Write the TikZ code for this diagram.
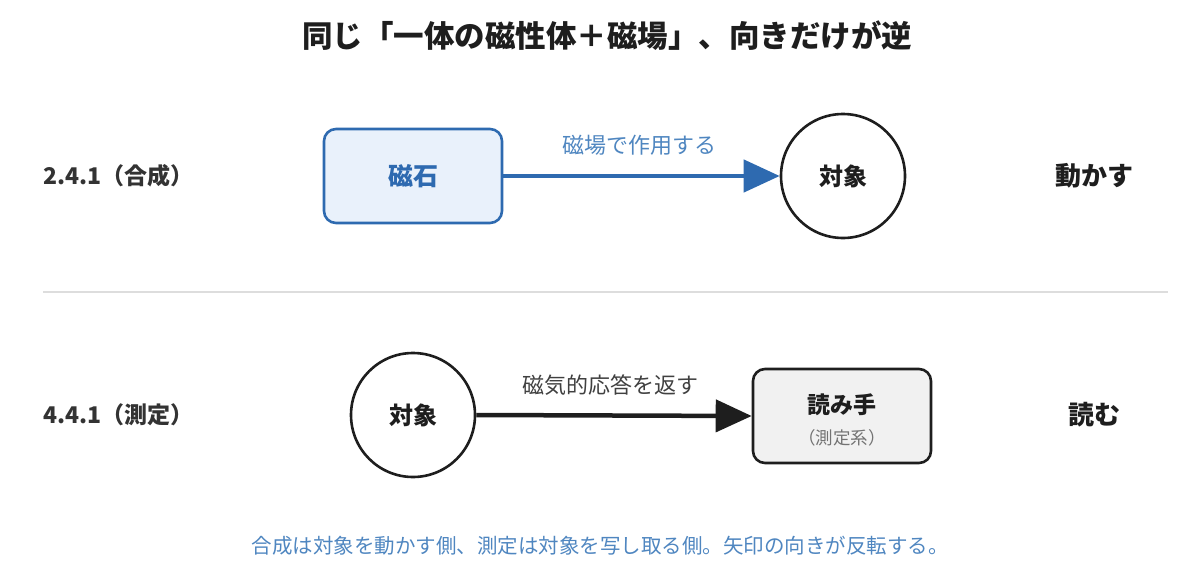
\documentclass[tikz,border=0pt]{standalone}
\usepackage{fontspec}
\setmainfont{Noto Sans CJK JP}
\usetikzlibrary{arrows.meta}
\definecolor{tblue}{HTML}{2E6AB0}
\definecolor{lblue}{HTML}{E9F1FB}
\definecolor{mblue}{HTML}{4F86C0}
\definecolor{dark}{HTML}{1E1E1E}
\definecolor{lgray}{HTML}{F1F1F1}
\definecolor{sep}{HTML}{DDDDDD}
\tikzset{
  rowlabel/.style={anchor=west, font=\fontsize{23}{27}\selectfont\bfseries, text=black!80},
  verb/.style={font=\fontsize{26}{30}\selectfont\bfseries, text=dark},
  objcircle/.style={circle, draw=dark, line width=2.6pt, minimum size=124pt, inner sep=0pt, font=\fontsize{24}{28}\selectfont\bfseries, text=dark},
  magbox/.style={rounded corners=12pt, draw=tblue, fill=lblue, line width=2.6pt, minimum width=178pt, minimum height=94pt, font=\fontsize{25}{29}\selectfont\bfseries, text=tblue},
  readbox/.style={rounded corners=12pt, draw=dark, fill=lgray, line width=2.6pt, minimum width=178pt, minimum height=94pt},
  edgelabel/.style={font=\fontsize{22}{26}\selectfont},
  bigarrow/.style={line width=4.5pt, -{Triangle[length=36pt,width=32pt]}}
}
\begin{document}
\begin{tikzpicture}[x=1pt,y=-1pt]
\useasboundingbox (0,0) rectangle (1200,573);
\node[font=\fontsize{30.5}{34}\selectfont\bfseries, text=dark] (title) at (607,36) {同じ「一体の磁性体＋磁場」、向きだけが逆};
% row 1
\node[rowlabel] (l1) at (40,176) {2.4.1（合成）};
\node[magbox] (magnet) at (413,176) {磁石};
\node[objcircle] (obj1) at (843,176) {対象};
\draw[bigarrow, draw=tblue, fill=tblue] (magnet.east) -- (obj1.west);
\node[edgelabel, text=mblue] (lab1) at (639,145) {磁場で作用する};
\node[verb] (v1) at (1094,176) {動かす};
% separator
\coordinate (s1) at (43,292);
\coordinate (s2) at (1168,292);
\draw[sep, line width=1.5pt] (s1) -- (s2);
% row 2
\node[rowlabel] (l2) at (40,415) {4.4.1（測定）};
\node[objcircle] (obj2) at (413,415) {対象};
\node[readbox] (reader) at (842,416) {};
\node[font=\fontsize{23}{27}\selectfont\bfseries, text=dark] (rt) at (842,405) {読み手};
\node[font=\fontsize{17.5}{21}\selectfont, text=black!55] (rs) at (842,438) {（測定系）};
\draw[bigarrow, draw=dark, fill=dark] (obj2.east) -- (reader.west);
\node[edgelabel, text=black!75] (lab2) at (610,385) {磁気的応答を返す};
\node[verb] (v2) at (1094,415) {読む};
% footer
\node[font=\fontsize{20.5}{24}\selectfont, text=mblue] (foot) at (600,546) {合成は対象を動かす側、測定は対象を写し取る側。矢印の向きが反転する。};
\end{tikzpicture}
\end{document}
